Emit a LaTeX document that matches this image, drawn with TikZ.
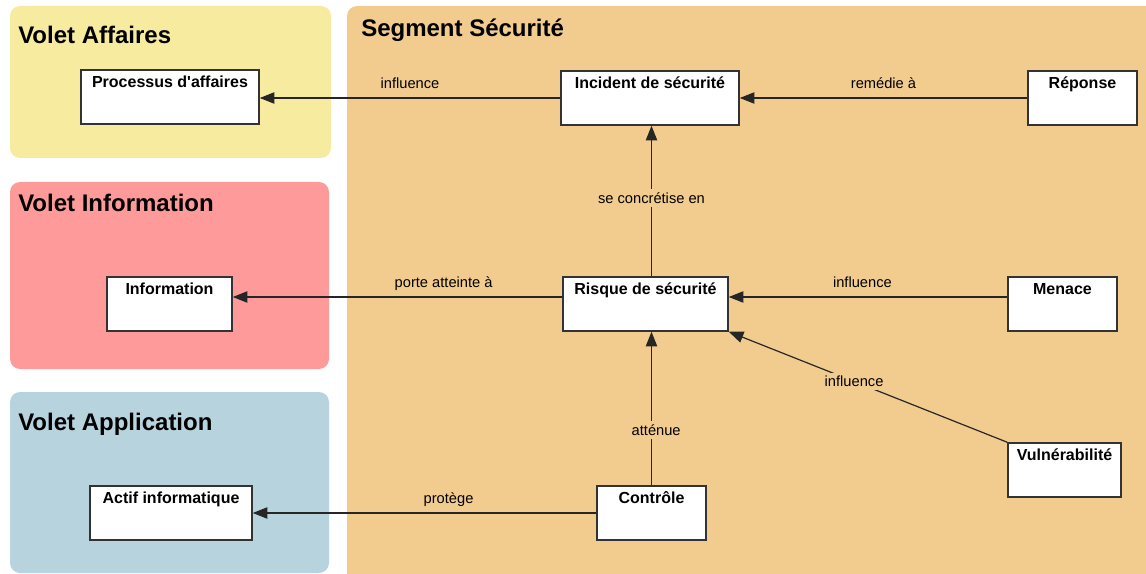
\documentclass[tikz,border=0pt]{standalone}
\usepackage{fontspec}
\setmainfont{Liberation Sans}
\usetikzlibrary{arrows.meta}
\definecolor{affaires}{HTML}{F7EBA0}
\definecolor{information}{HTML}{FF9A9A}
\definecolor{application}{HTML}{B7D3DE}
\definecolor{segment}{HTML}{F2CC8F}
\tikzset{
  volet/.style={rounded corners=7.5pt},
  titre/.style={anchor=base west, inner sep=0pt, font=\bfseries\fontsize{18}{21}\selectfont},
  classe/.style={draw=black!80, line width=1.1pt, fill=white, minimum height=40.5pt,
    inner ysep=2pt, text height=11pt, text depth=25.5pt, font=\bfseries\fontsize{12}{14}\selectfont},
  larg/.style={minimum width=#1*0.75pt},
  rel/.style={draw=black!85, line width=0.9pt, -{Triangle[length=11pt,width=8.5pt]}},
  etiq/.style={font=\fontsize{11}{13}\selectfont, anchor=base, yshift=7pt},
  coupe/.style={font=\fontsize{11}{13}\selectfont, fill=segment, inner sep=2.5pt},
}
\begin{document}
\begin{tikzpicture}[x=0.75pt, y=-0.75pt]
\useasboundingbox (0,0) rectangle (1146,574);
% volets
\fill[affaires, volet] (10,6) rectangle (331,158);
\fill[information, volet] (10,182) rectangle (329,369);
\fill[application, volet] (10,392) rectangle (329,573);
\fill[segment, volet] (347,6) rectangle (1165,595);
\node[titre] at (18,44) {Volet Affaires};
\node[titre] at (18,212) {Volet Information};
\node[titre] at (18,430) {Volet Application};
\node[titre] at (361,37) {Segment Sécurité};
% classes
\node[classe, larg=178] (proc) at (170,97) {Processus d\textquotesingle affaires};
\node[classe, larg=125] (info) at (169.5,304) {Information};
\node[classe, larg=162] (actif) at (171,513) {Actif informatique};
\node[classe, larg=178] (inc) at (650,98) {Incident de sécurité};
\node[classe, larg=109] (rep) at (1082.5,98) {Réponse};
\node[classe, larg=165] (risk) at (645.5,304) {Risque de sécurité};
\node[classe, larg=109] (men) at (1062.5,304) {Menace};
\node[classe, larg=113] (vul) at (1064.5,470) {Vulnérabilité};
\node[classe, larg=109] (ctl) at (651.5,513) {Contrôle};
\coordinate (risk w) at ([yshift=5.25pt]risk.west);
\coordinate (men w) at ([yshift=5.25pt]men.west);
% relations
\draw[rel] (inc.west) -- (inc.west -| proc.east) node[etiq, midway] {influence};
\draw[rel] (rep.west) -- (rep.west -| inc.east) node[etiq, midway] {remédie à};
\draw[rel] (risk w) -- (risk w -| info.east) node[etiq, pos=0.36] {porte atteinte à};
\draw[rel] (men w) -- (men w -| risk.east) node[etiq, pos=0.52] {influence};
\draw[rel] (ctl.north |- risk.north) -- (ctl.north |- inc.south) node[coupe, pos=0.52] {se concrétise en};
\draw[rel] (ctl.north) -- (ctl.north |- risk.south) node[coupe, pos=0.36, xshift=3.5pt] {atténue};
\draw[rel] (vul.north west) -- (risk.south east) node[coupe, pos=0.55] {influence};
\draw[rel] (ctl.west) -- (ctl.west -| actif.east) node[etiq, pos=0.43] {protège};
\end{tikzpicture}
\end{document}
